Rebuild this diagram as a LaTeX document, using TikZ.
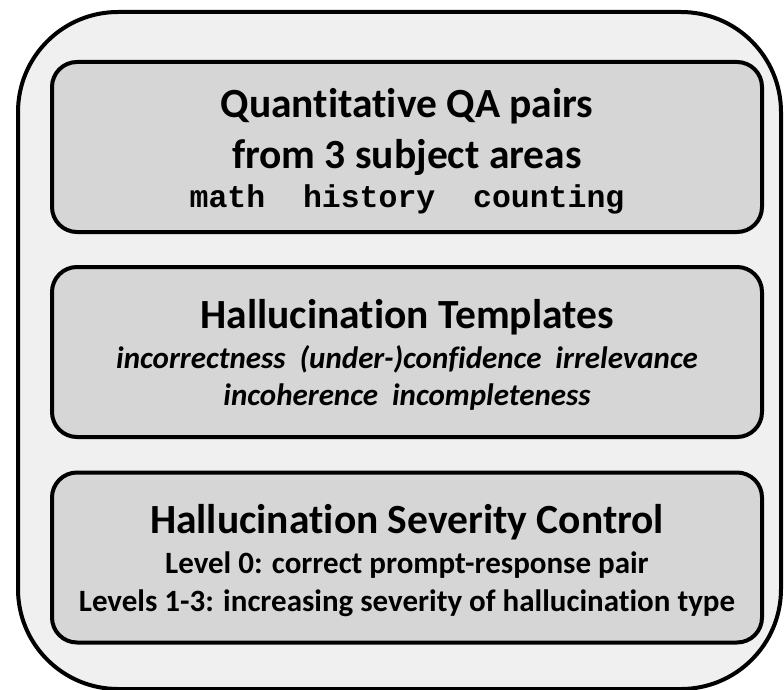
\documentclass[tikz,border=0pt]{standalone}
\usepackage{fontspec}
\setmainfont{Carlito}[Ligatures=NoCommon]
\newfontfamily\monob{Liberation Mono}[BoldFont={* Bold}]
\begin{document}
\begin{tikzpicture}[x=1pt,y=-1pt,
  outerbox/.style={draw=black,line width=4pt,fill=black!6,rounded corners=100pt},
  innerbox/.style={draw=black,line width=4pt,fill=black!16,rounded corners=25pt,
    minimum width=710pt,minimum height=170pt,inner sep=0pt},
  head/.style={anchor=base,inner sep=0pt,font=\fontsize{41.5}{48}\selectfont\bfseries},
  sub/.style={anchor=base,inner sep=0pt,font=\fontsize{31}{36}\selectfont\bfseries},
  subit/.style={anchor=base,inner sep=0pt,font=\fontsize{31}{36}\selectfont\bfseries\itshape},
  mono/.style={anchor=base,inner sep=0pt,font=\fontsize{31.5}{34}\selectfont\monob\bfseries}]
\useasboundingbox (0,0) rectangle (784,690);
\begin{scope}
\clip (0,0) rectangle (784,690);
\draw[outerbox] (18,12) rectangle (781,689);
\end{scope}
\node[innerbox] (b1) at (407,147) {};
\node[innerbox] (b2) at (407,352) {};
\node[innerbox] (b3) at (407,557.5) {};
\node[head] (t1) at (407,118) {Quantitative QA pairs};
\node[head] (t2) at (407,168) {from 3 subject areas};
\node[mono] (t3) at (407,207) {math\ \ history\ \ counting};
\node[head] (h2) at (407,328) {Hallucination Templates};
\node[subit] (i1) at (407,368) {incorrectness\ \ (under-)confidence\ \ irrelevance};
\node[subit] (i2) at (407,405) {incoherence\ \ incompleteness};
\node[head] (h3) at (407,533) {Hallucination Severity Control};
\node[sub] (l1) at (407,573) {Level 0: correct prompt-response pair};
\node[sub] (l2) at (407,611) {Levels 1-3: increasing severity of hallucination type};
\end{tikzpicture}
\end{document}
